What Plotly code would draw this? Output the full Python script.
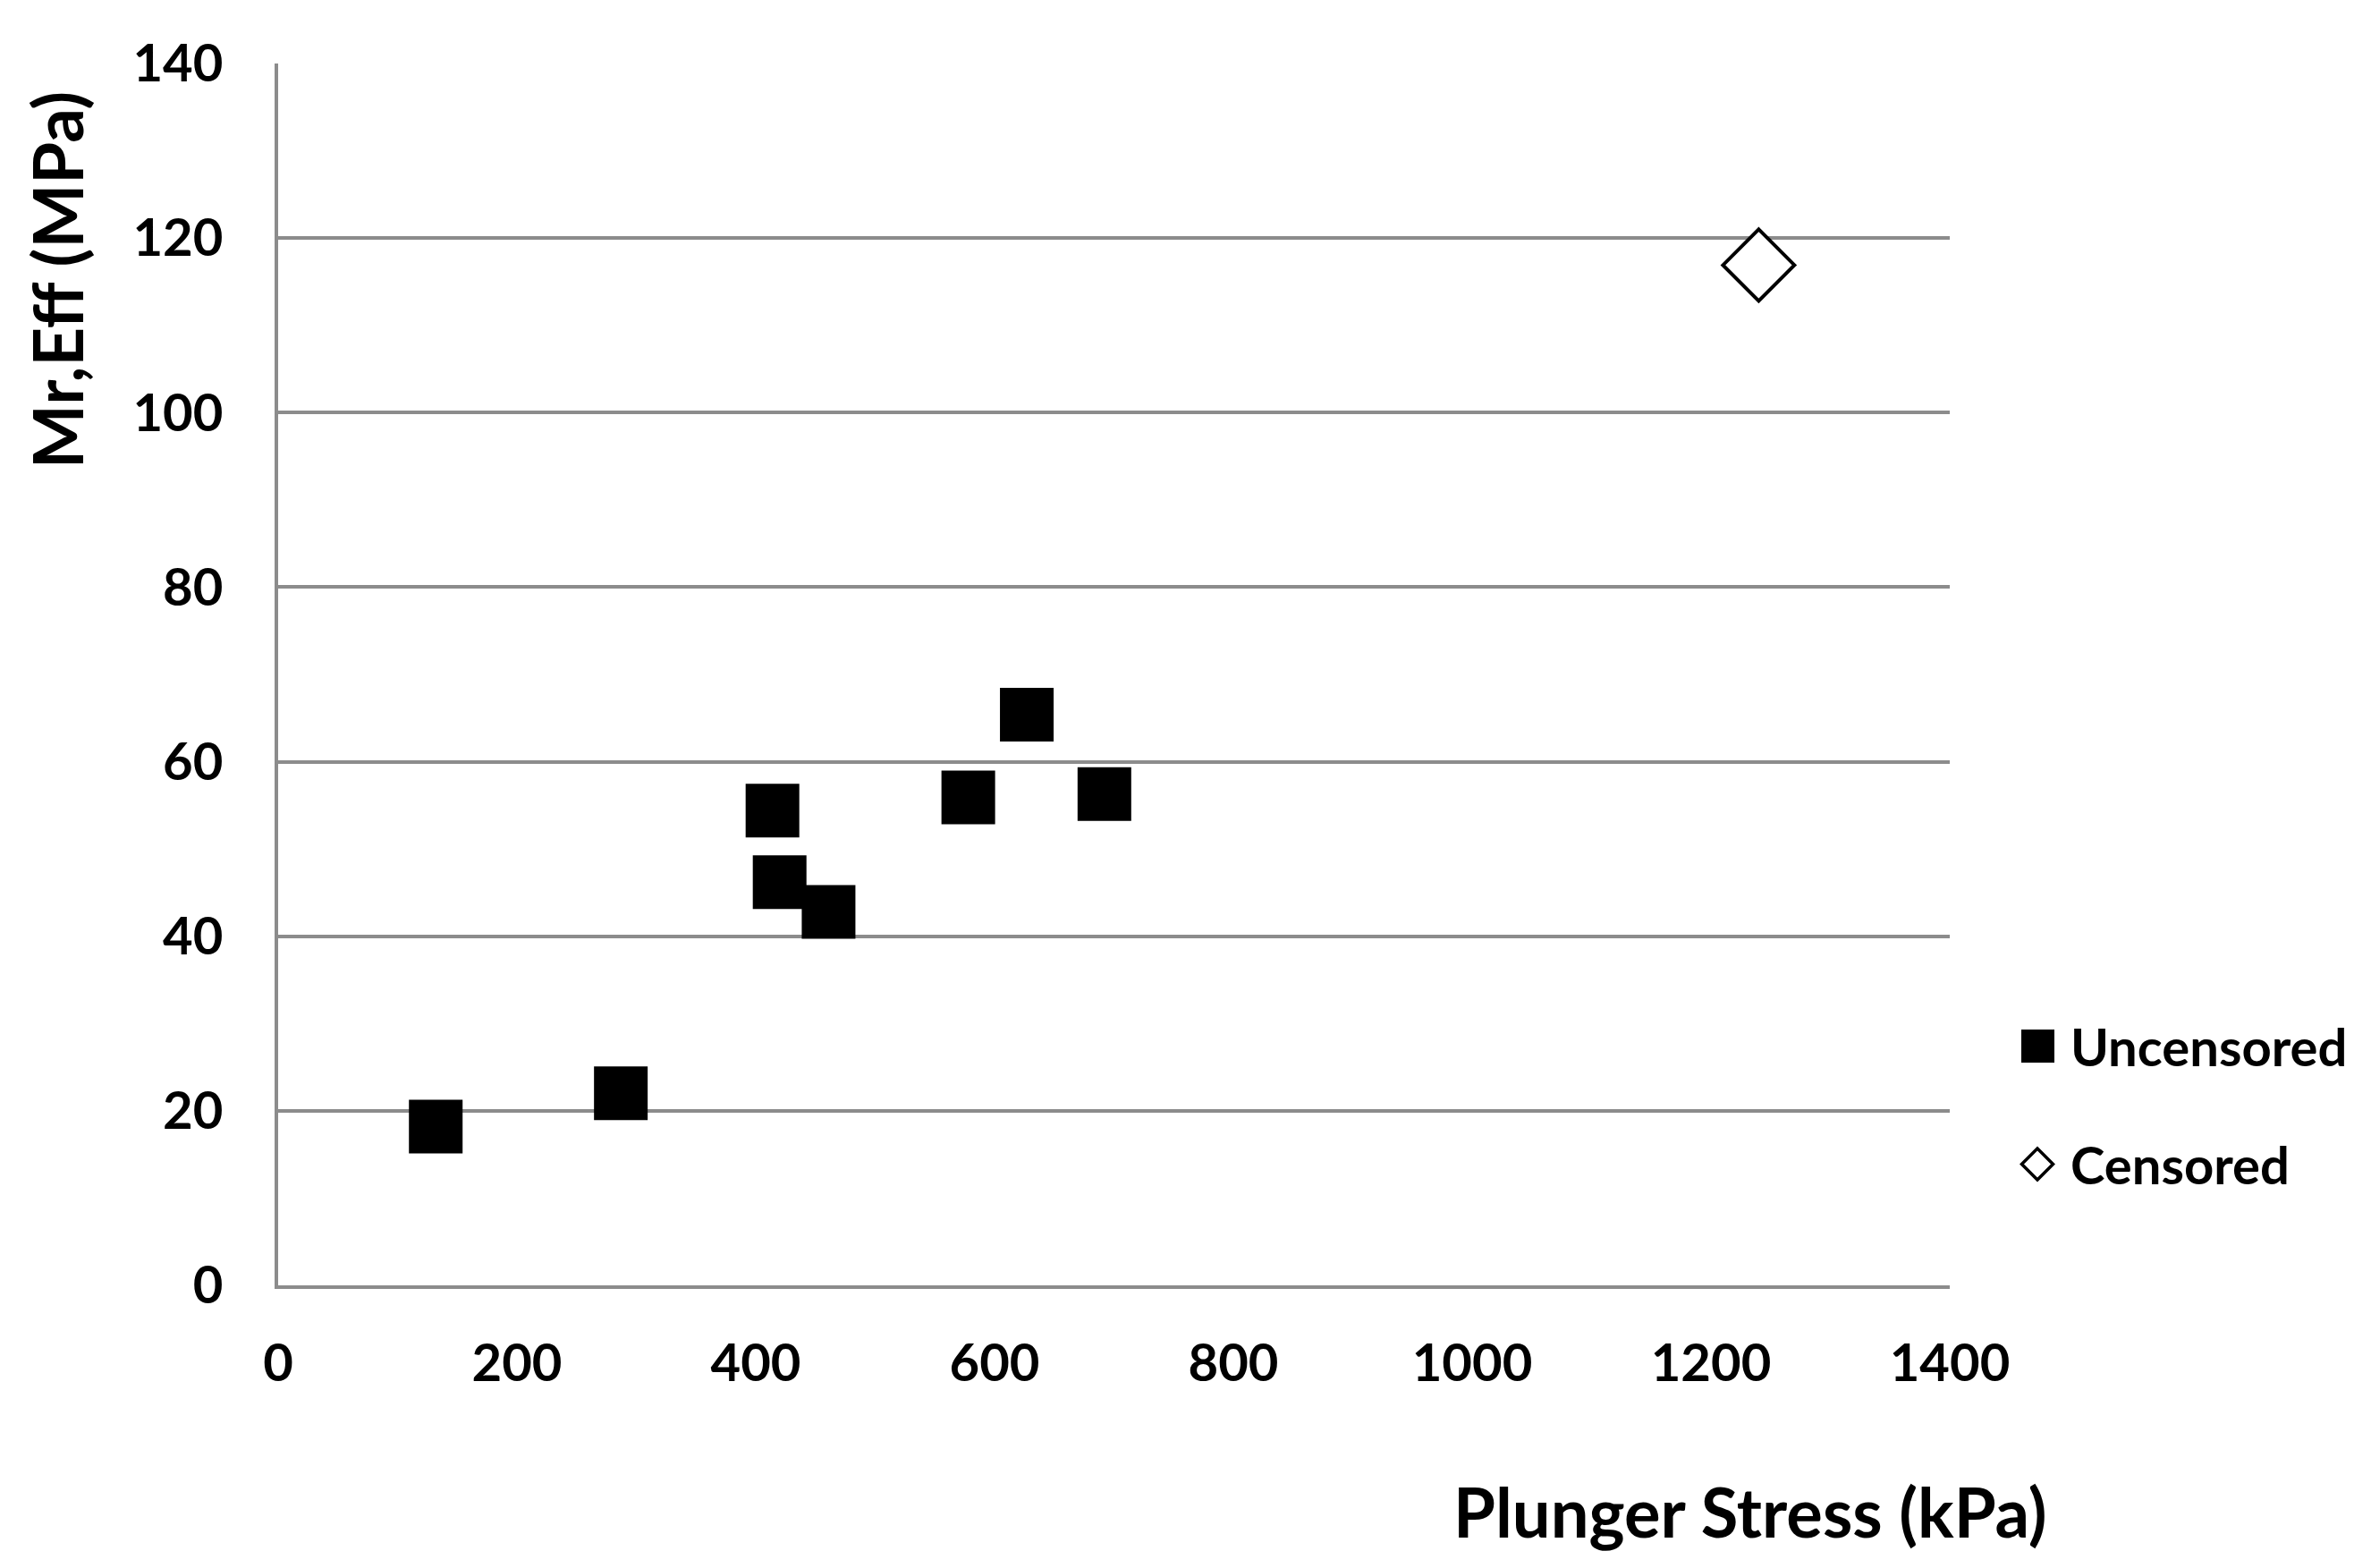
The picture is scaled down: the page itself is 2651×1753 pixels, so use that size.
import plotly.graph_objects as go

# ---- data ----
x_uncensored = [132, 287, 414, 420, 461, 578, 627, 692]
y_uncensored = [18.2, 22.0, 54.4, 46.2, 42.8, 55.9, 65.4, 56.3]
x_censored = [1240]
y_censored = [116.9]

x_ticks = [0, 200, 400, 600, 800, 1000, 1200, 1400]
y_ticks = [0, 20, 40, 60, 80, 100, 120, 140]

series_names = ["Uncensored", "Censored"]
x_title = "Plunger Stress (kPa)"
y_title = "Mr,Eff (MPa)"

# ---- layout geometry ----
W, H = 2651, 1753
OFF = 8  # page body margin offset
PL, PT, PW, PH = 311, 71, 1869, 1366.5  # plot area in reference pixels
L, T = PL - OFF, PT - OFF
R, B = W - L - PW, H - T - PH
GRID = "#8c8c8c"
FONT = dict(family="Lato, Open Sans, sans-serif", color="black", weight="bold")


def px(xp):
    return (xp - PL) / PW


def py(yp):
    return (PT + PH - yp) / PH


fig = go.Figure()
fig.add_trace(go.Scatter(
    x=x_uncensored, y=y_uncensored, mode="markers", name=series_names[0],
    marker=dict(symbol="square", size=60, color="black", line=dict(width=0)),
    cliponaxis=False, showlegend=False))
fig.add_trace(go.Scatter(
    x=x_censored, y=y_censored, mode="markers", name=series_names[1],
    marker=dict(symbol="diamond", size=61.5, color="white",
                line=dict(width=4, color="black")),
    cliponaxis=False, showlegend=False))

fig.update_layout(
    width=W, height=H,
    margin=dict(l=L, r=R, t=T, b=B, pad=0),
    paper_bgcolor="white", plot_bgcolor="white",
    font=dict(size=58, **FONT),
    xaxis=dict(range=[0, 1400], tickvals=x_ticks, ticktext=[str(v) for v in x_ticks],
               showgrid=False, zeroline=False, showline=True, linecolor=GRID,
               linewidth=4, ticks="", ticklabelstandoff=33,
               tickfont=dict(size=58, **FONT)),
    yaxis=dict(range=[0, 140], tickvals=y_ticks, ticktext=[str(v) for v in y_ticks],
               showgrid=True, gridcolor=GRID, gridwidth=4, zeroline=False,
               showline=True, linecolor=GRID, linewidth=4, ticks="",
               ticklabelstandoff=46, tickfont=dict(size=58, **FONT)),
)

# axis titles
fig.add_annotation(text=x_title, xref="paper", yref="paper", x=px(1957), y=py(1690),
                   xanchor="center", yanchor="middle", showarrow=False,
                   font=dict(size=76, **FONT))
fig.add_annotation(text=y_title, xref="paper", yref="paper", x=px(64), y=py(313),
                   xanchor="center", yanchor="middle", showarrow=False, textangle=-90,
                   font=dict(size=76, **FONT))

# custom legend (large symbols as in reference)
leg_y = [1170, 1302]
fig.add_shape(type="rect", xref="paper", yref="paper",
              x0=px(2260), x1=px(2297), y0=py(leg_y[0] + 18.5), y1=py(leg_y[0] - 18.5),
              fillcolor="black", line=dict(width=0))
cx, cy, hw = 2278, leg_y[1], 17.5
fig.add_shape(type="path", xref="paper", yref="paper",
              path=(f"M {px(cx - hw)} {py(cy)} L {px(cx)} {py(cy - hw)} "
                    f"L {px(cx + hw)} {py(cy)} L {px(cx)} {py(cy + hw)} Z"),
              fillcolor="white", line=dict(width=3.5, color="black"))
for name, yy in zip(series_names, leg_y):
    fig.add_annotation(text=name, xref="paper", yref="paper", x=px(2313), y=py(yy),
                       xanchor="left", yanchor="middle", showarrow=False,
                       font=dict(size=58, **FONT))

fig.write_html("out.html")
